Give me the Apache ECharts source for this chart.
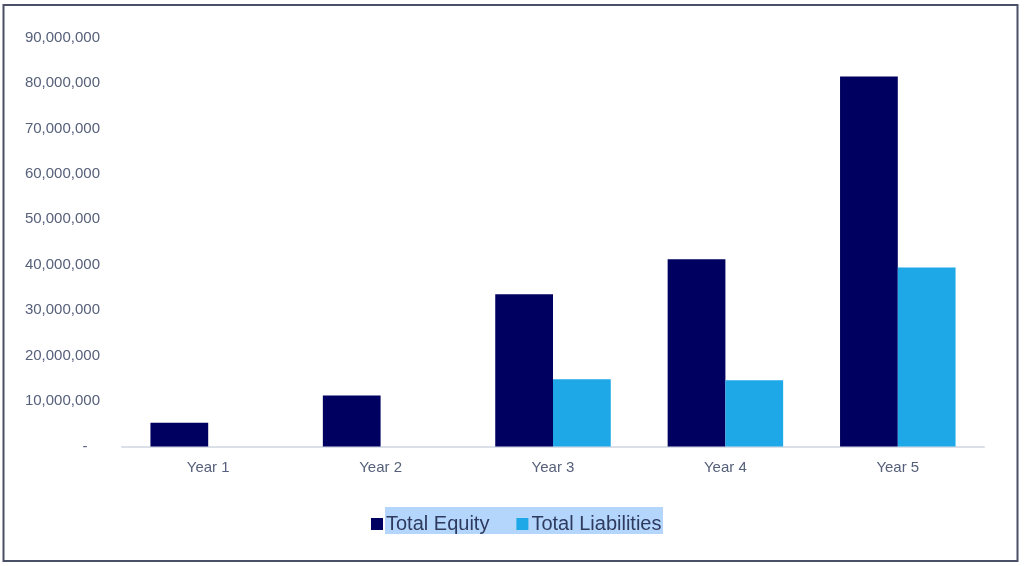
<!DOCTYPE html>
<html>
<head>
<meta charset="utf-8">
<script src="https://cdn.jsdelivr.net/npm/echarts@6/dist/echarts.min.js"></script>
<style>
html,body{margin:0;padding:0;background:#fff;}
#main{width:1024px;height:566px;}
</style>
</head>
<body>
<div id="main"></div>
<script>
const categories = ['Year 1', 'Year 2', 'Year 3', 'Year 4', 'Year 5'];
const totalEquity = [5200000, 11200000, 33500000, 41200000, 81400000];
const totalLiabilities = [0, 0, 14800000, 14600000, 39400000];
const seriesNames = ['Total Equity', 'Total Liabilities'];

const chart = echarts.init(document.getElementById('main'));
chart.setOption({
  animation: false,
  backgroundColor: '#ffffff',
  graphic: [
    { type: 'rect', z: -1, shape: { x: 3.5, y: 5, width: 1014, height: 556 },
      style: { fill: '#fff', stroke: '#4b5066', lineWidth: 2 } },
    { type: 'rect', z: -1, shape: { x: 385, y: 507, width: 278, height: 27 },
      style: { fill: '#b4d6fd' } }
  ],
  grid: { left: 122, right: 40, top: 37.5, bottom: 119.5 },
  legend: {
    data: seriesNames,
    left: 366, top: 509,
    icon: 'rect', itemWidth: 12, itemHeight: 12, itemGap: 27,
    textStyle: { fontFamily: 'Liberation Sans, Arial, sans-serif', fontSize: 20, color: '#2e3a5e', padding: [0, 0, 0, -2] }
  },
  xAxis: {
    type: 'category',
    data: categories,
    axisLine: { lineStyle: { color: '#dadfe8', width: 2 } },
    axisTick: { show: false },
    axisLabel: { fontFamily: 'Liberation Sans, Arial, sans-serif', fontSize: 15, color: '#56607a', margin: 14 }
  },
  yAxis: {
    type: 'value',
    min: 0, max: 90000000, interval: 10000000,
    splitLine: { show: false },
    axisLine: { show: false },
    axisTick: { show: false },
    axisLabel: {
      fontFamily: 'Liberation Sans, Arial, sans-serif', fontSize: 15, color: '#56607a', margin: 22,
      formatter: function (v) { return v === 0 ? '-   ' : v.toLocaleString('en-US'); }
    }
  },
  series: [
    { name: seriesNames[0], type: 'bar', data: totalEquity, barGap: '0%', barCategoryGap: '33%',
      itemStyle: { color: '#000060' } },
    { name: seriesNames[1], type: 'bar', data: totalLiabilities,
      itemStyle: { color: '#1ea8e8' } }
  ]
});
</script>
</body>
</html>
